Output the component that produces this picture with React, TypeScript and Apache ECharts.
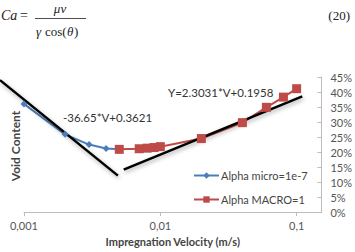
import React, { useEffect, useRef } from "react";
import * as echarts from "echarts";

const blueName = "Alpha micro=1e-7";
const redName = "Alpha MACRO=1";
const blueX = [0.001, 0.002, 0.003, 0.004, 0.005];
const blueY = [0.36, 0.259, 0.225, 0.212, 0.209];
const redX = [0.005, 0.007, 0.008, 0.009, 0.01, 0.02, 0.04, 0.06, 0.08, 0.1];
const redY = [0.209, 0.211, 0.213, 0.215, 0.218, 0.245, 0.298, 0.349, 0.383, 0.411];
const trend1X = [0.000667, 0.00487];
const trend1Y = [0.44, 0.133];
const trend2X = [0.00539, 0.1099];
const trend2Y = [0.1414, 0.3857];
const eq1 = "-36.65*V+0.3621";
const eq2 = "Y=2.3031*V+0.1958";

const X_MIN = 0.001;
const X_MAX = 0.152;
const Y_MAX = 0.45;

const FONT = "Lato, 'Open Sans', sans-serif";
const SERIF = "'Liberation Serif', 'DejaVu Serif', serif";

function fmtX(v: number): string {
  const l = Math.log10(v);
  if (Math.abs(l - Math.round(l)) > 1e-6) return "";
  const p = Math.round(l);
  if (p < 0) return "0," + "0".repeat(-p - 1) + "1";
  return String(Math.pow(10, p));
}

export default function App() {
  const ref = useRef<HTMLDivElement>(null);
  useEffect(() => {
    if (!ref.current) return;
    const chart = echarts.init(ref.current, undefined, { renderer: "svg" });
    const zip = (a: number[], b: number[]) => a.map((x, i) => [x, b[i]]);
    const W = 355;
    const gl = 24;
    const gr = 33;
    const plotW = W - gl - gr;
    const pxPerDecade = plotW / Math.log10(X_MAX / X_MIN);
    // second, wider grid sharing the same log scale, so the trendline can extend left of the axis
    const xMin2 = X_MIN / Math.pow(10, gl / pxPerDecade);
    const trendStyle = {
      color: "#000",
      width: 2.5,
      shadowColor: "rgba(0,0,0,0.35)",
      shadowBlur: 4,
      shadowOffsetX: 1,
      shadowOffsetY: 2,
    };
    chart.setOption({
      animation: false,
      backgroundColor: "#fff",
      grid: [
        { left: gl, right: gr, top: 77, bottom: 35, containLabel: false },
        { left: 0, right: gr, top: 77, bottom: 35, containLabel: false },
      ],
      xAxis: [
        {
          type: "log",
          logBase: 10,
          min: X_MIN,
          max: X_MAX,
          gridIndex: 0,
          splitLine: { show: false },
          axisLine: { lineStyle: { color: "#bdbdbd", width: 1 } },
          axisTick: { show: true, length: 4, lineStyle: { color: "#bdbdbd" } },
          axisLabel: {
            formatter: fmtX,
            showMaxLabel: false,
            margin: 8,
            fontSize: 11,
            color: "#555",
            fontFamily: FONT,
          },
          name: "Impregnation Velocity (m/s)",
          nameLocation: "middle",
          nameGap: 23,
          nameTextStyle: { fontSize: 11, fontWeight: "bold", color: "#444", fontFamily: FONT },
        },
        {
          type: "log",
          logBase: 10,
          min: xMin2,
          max: X_MAX,
          gridIndex: 1,
          show: false,
        },
      ],
      yAxis: [
        {
          type: "value",
          position: "right",
          min: 0,
          max: Y_MAX,
          interval: 0.05,
          gridIndex: 0,
          splitLine: { show: false },
          axisLine: { show: true, lineStyle: { color: "#bdbdbd", width: 1 } },
          axisTick: { show: true, inside: true, length: 4, lineStyle: { color: "#bdbdbd" } },
          axisLabel: {
            formatter: (v: number) => Math.round(v * 100) + "%",
            margin: 9,
            fontSize: 11,
            color: "#555",
            fontFamily: FONT,
          },
        },
        {
          type: "value",
          min: 0,
          max: Y_MAX,
          gridIndex: 1,
          show: false,
          splitLine: { show: false },
        },
      ],
      legend: {
        data: [blueName, redName],
        orient: "vertical",
        left: 188,
        top: 165,
        itemWidth: 25,
        itemHeight: 8,
        itemGap: 13,
        textStyle: { fontSize: 11, color: "#444", fontFamily: FONT, padding: [0, 0, 0, -3] },
      },
      series: [
        {
          name: blueName,
          type: "line",
          data: zip(blueX, blueY),
          symbol: "diamond",
          symbolSize: 7,
          itemStyle: { color: "#4a7ebb" },
          lineStyle: { color: "#4a7ebb", width: 2 },
        },
        {
          name: redName,
          type: "line",
          data: zip(redX, redY),
          symbol: "rect",
          symbolSize: 9,
          itemStyle: { color: "#be4b48" },
          lineStyle: { color: "#be4b48", width: 2 },
        },
        {
          name: "trend1",
          type: "line",
          xAxisIndex: 1,
          yAxisIndex: 1,
          data: zip(trend1X, trend1Y),
          showSymbol: false,
          symbol: "none",
          clip: false,
          lineStyle: trendStyle,
          silent: true,
        },
        {
          name: "trend2",
          type: "line",
          data: zip(trend2X, trend2Y),
          showSymbol: false,
          symbol: "none",
          clip: false,
          lineStyle: trendStyle,
          silent: true,
        },
      ],
      graphic: [
        {
          type: "text",
          x: 1,
          y: 15,
          style: { text: "Ca", font: "italic 14px " + SERIF, fill: "#222", verticalAlign: "middle" },
        },
        {
          type: "text",
          x: 20,
          y: 15,
          style: { text: "=", font: "14px " + SERIF, fill: "#222", verticalAlign: "middle" },
        },
        {
          type: "text",
          x: 60,
          y: 8,
          style: {
            text: "μv",
            font: "italic 13px " + SERIF,
            fill: "#222",
            align: "center",
            verticalAlign: "middle",
          },
        },
        {
          type: "line",
          shape: { x1: 35, y1: 18.5, x2: 86, y2: 18.5 },
          style: { stroke: "#222", lineWidth: 0.8 },
        },
        {
          type: "text",
          x: 36,
          y: 31,
          style: { text: "γ", font: "italic 13px " + SERIF, fill: "#222", verticalAlign: "middle" },
        },
        {
          type: "text",
          x: 45,
          y: 31,
          style: { text: "cos(", font: "13px " + SERIF, fill: "#222", verticalAlign: "middle" },
        },
        {
          type: "text",
          x: 67,
          y: 31,
          style: { text: "θ", font: "italic 13px " + SERIF, fill: "#222", verticalAlign: "middle" },
        },
        {
          type: "text",
          x: 74,
          y: 31,
          style: { text: ")", font: "13px " + SERIF, fill: "#222", verticalAlign: "middle" },
        },
        {
          type: "text",
          x: 350,
          y: 15,
          style: {
            text: "(20)",
            font: "13px " + SERIF,
            fill: "#222",
            align: "right",
            verticalAlign: "middle",
          },
        },
        {
          type: "text",
          x: 15,
          y: 146,
          rotation: Math.PI / 2,
          style: {
            text: "Void Content",
            font: "bold 12px " + FONT,
            fill: "#444",
            align: "center",
            verticalAlign: "middle",
          },
        },
        {
          type: "text",
          x: 63,
          y: 117,
          style: { text: eq1, font: "11.5px " + FONT, fill: "#333", verticalAlign: "middle" },
        },
        {
          type: "text",
          x: 168,
          y: 92,
          style: { text: eq2, font: "11.5px " + FONT, fill: "#333", verticalAlign: "middle" },
        },
      ],
    });
    return () => chart.dispose();
  }, []);
  return (
    <div
      ref={ref}
      style={{ position: "absolute", left: 0, top: 0, width: 355, height: 252 }}
    />
  );
}
